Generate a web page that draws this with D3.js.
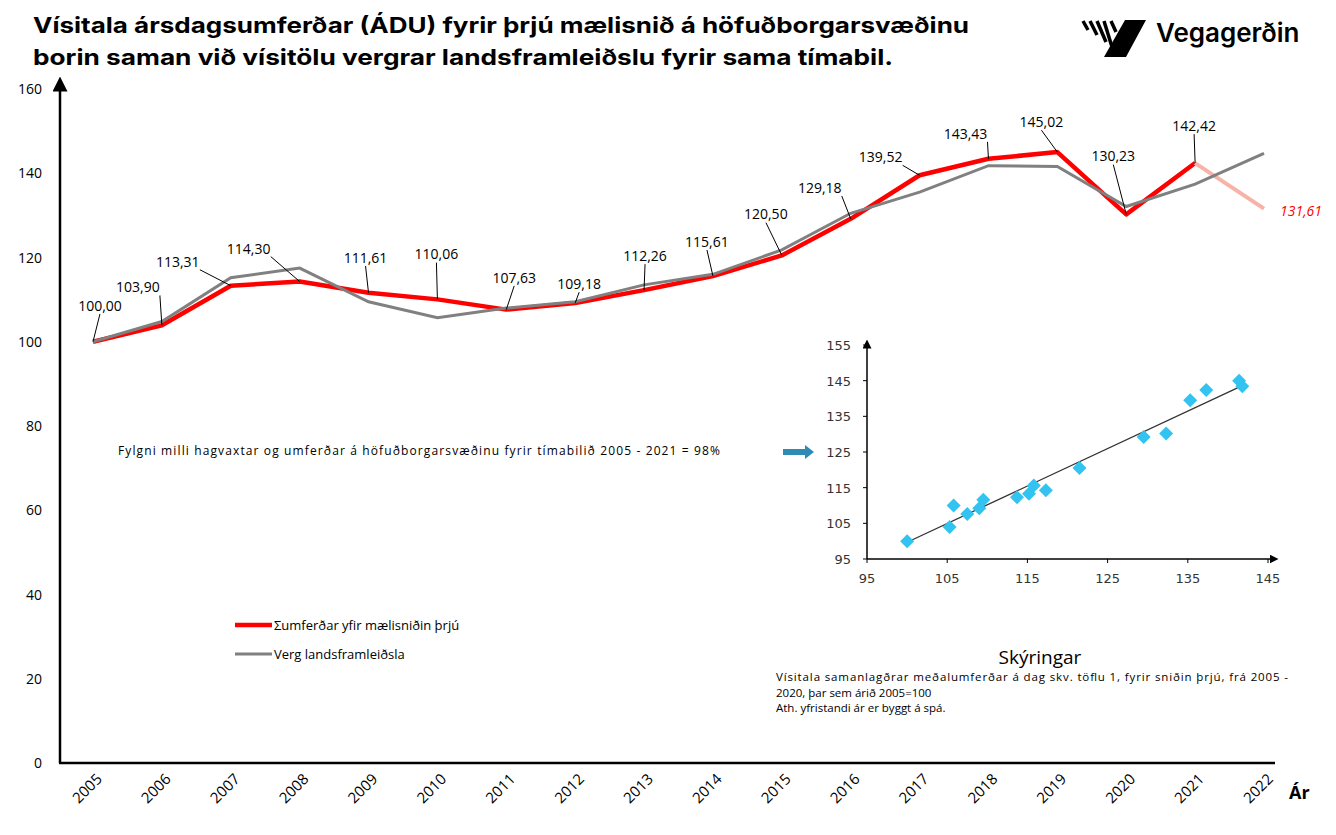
<!DOCTYPE html>
<html><head><meta charset="utf-8">
<script src="https://cdn.jsdelivr.net/npm/d3@7"></script>
<style>body{margin:0;background:#fff}</style></head>
<body><svg id="c" width="1336" height="835"></svg>
<script>
const years=[2005,2006,2007,2008,2009,2010,2011,2012,2013,2014,2015,2016,2017,2018,2019,2020,2021,2022];
const traffic=[100,103.90,113.31,114.30,111.61,110.06,107.63,109.18,112.26,115.61,120.50,129.18,139.52,143.43,145.02,130.23,142.42];
const forecast2022=131.61;
const gdp=[100,104.8,115.2,117.5,109.5,105.7,108,109.5,113.5,116,121.8,130.5,135.5,141.8,141.6,132.1,137.4,144.7];
const labelDx=[7,-24,-53,-51,-3,-1,8,4,1,-6,-16,-31,-39,-23,-16,-13,-1];
const labelDy=[-36,-38,-24,-33,-35,-45,-32,-19,-34,-34,-41,-31,-18,-25,-30,-58,-37];
const yTicks=[0,20,40,60,80,100,120,140,160];
const scX=[100,105.3,105.8,107.5,109,109.5,113.7,115.2,115.8,117.3,121.5,129.5,132.3,135.3,137.3,141.4,141.8];
const scY=[100,104,110,107.6,109.2,111.6,112.3,113.3,115.6,114.3,120.5,129.2,130.2,139.5,142.4,145,143.4];
const trend=[[100,99.7],[142,143.8]];
const scTicks=[95,105,115,125,135,145];
const fmt=v=>v.toFixed(2).replace('.',',');
const svg=d3.select('#c');
const F='"Open Sans",sans-serif';
const x=d3.scaleLinear().domain([2005,2022]).range([93,1264]);
const y=d3.scaleLinear().domain([0,160]).range([763,89]);
// title
svg.append('text').attr('x',33).attr('y',33).attr('font-family','Inter').attr('font-weight',700).attr('font-size',22).attr('textLength',936).attr('lengthAdjust','spacingAndGlyphs').text('Vísitala ársdagsumferðar (ÁDU) fyrir þrjú mælisnið á höfuðborgarsvæðinu');
svg.append('text').attr('x',33).attr('y',65).attr('font-family','Inter').attr('font-weight',700).attr('font-size',22).attr('textLength',860).attr('lengthAdjust','spacingAndGlyphs').text('borin saman við vísitölu vergrar landsframleiðslu fyrir sama tímabil.');
// logo
const lg=svg.append('g');
lg.append('path').attr('d','M1121,57 L1128,45 L1120,45 L1134,20 L1146,20 L1126,57 Z').attr('fill','#000');
lg.append('path').attr('d','M1104,57 L1125,20 L1144,20 L1123,57 Z').attr('fill','#000');
[[1083,21,1088,30],[1090,21,1097,35],[1097,21,1106,42],[1104,21,1112,47],[1111,21,1116,32]].forEach(s=>lg.append('line').attr('x1',s[0]).attr('y1',s[1]).attr('x2',s[2]).attr('y2',s[3]).attr('stroke','#000').attr('stroke-width',3.5));
lg.append('text').attr('x',1156).attr('y',42).attr('font-family','Inter').attr('font-weight',600).attr('font-size',26).text('Vegagerðin');
// axes
svg.append('defs').append('marker').attr('id','ar').attr('viewBox','0 0 10 10').attr('refX',5).attr('refY',5).attr('markerWidth',6).attr('markerHeight',6).attr('orient','auto').append('path').attr('d','M0,0L10,5L0,10Z');
svg.append('line').attr('x1',60).attr('y1',763).attr('x2',60).attr('y2',84).attr('stroke','#000').attr('stroke-width',2.5).attr('marker-end','url(#ar)');
svg.append('line').attr('x1',59).attr('y1',763).attr('x2',1275).attr('y2',763).attr('stroke','#000').attr('stroke-width',2.5);
yTicks.forEach(t=>svg.append('text').attr('x',42).attr('y',y(t)+5).attr('text-anchor','end').attr('font-family',F).attr('font-size',14).text(t));
years.forEach(yr=>svg.append('text').attr('transform',`translate(${x(yr)+10},${780}) rotate(-45)`).attr('text-anchor','end').attr('font-family',F).attr('font-size',15).text(yr));
svg.append('text').attr('x',1289).attr('y',799).attr('font-family',F).attr('font-weight',700).attr('font-size',18).text('Ár');
// lines
const line=d3.line().x((d,i)=>x(years[i])).y(d=>y(d));
svg.append('path').datum(traffic).attr('d',line).attr('fill','none').attr('stroke','#ff0000').attr('stroke-width',4.5).attr('stroke-linejoin','round');
svg.append('line').attr('x1',x(2021)).attr('y1',y(traffic[16])).attr('x2',x(2022)).attr('y2',y(forecast2022)).attr('stroke','#f7b3a8').attr('stroke-width',4);
svg.append('path').datum(gdp).attr('d',line).attr('fill','none').attr('stroke','#808080').attr('stroke-width',3);
// labels
traffic.forEach((v,i)=>{const px=x(years[i]),py=y(v),lx=px+labelDx[i],ly=py+labelDy[i]+4;
 svg.append('line').attr('x1',lx+(labelDx[i]<-20?22:0)).attr('y1',ly+4).attr('x2',px).attr('y2',py).attr('stroke','#000').attr('stroke-width',1);
 svg.append('rect').attr('x',lx-22).attr('y',ly-12).attr('width',44).attr('height',16).attr('fill','#fff');
 svg.append('text').attr('x',lx).attr('y',ly+1).attr('text-anchor','middle').attr('font-family',F).attr('font-size',14).text(fmt(v));});
svg.append('text').attr('x',1280).attr('y',216).attr('font-family',F).attr('font-style','italic').attr('font-size',14).attr('fill','#ff0000').text(fmt(forecast2022));
// legend
svg.append('line').attr('x1',235).attr('x2',272).attr('y1',625).attr('y2',625).attr('stroke','#ff0000').attr('stroke-width',4.5);
svg.append('text').attr('x',274).attr('y',630).attr('font-family',F).attr('font-size',13).text('Σumferðar yfir mælisniðin þrjú');
svg.append('line').attr('x1',235).attr('x2',272).attr('y1',654).attr('y2',654).attr('stroke','#808080').attr('stroke-width',3);
svg.append('text').attr('x',274).attr('y',659).attr('font-family',F).attr('font-size',13).text('Verg landsframleiðsla');
svg.append('text').attr('x',118).attr('y',455).attr('font-family',F).attr('font-size',12).attr('textLength',602).text('Fylgni milli hagvaxtar og umferðar á höfuðborgarsvæðinu fyrir tímabilið 2005 - 2021 = 98%');
// arrow
svg.append('path').attr('d','M783,449 L805,449 L805,445 L814,452 L805,459 L805,455 L783,455Z').attr('fill','#2e8bb3');
// inset
const sx=d3.scaleLinear().domain([95,145]).range([867,1268]);
const sy=d3.scaleLinear().domain([95,155]).range([559,345]);
svg.append('line').attr('x1',sx(95)).attr('y1',sy(95)).attr('x2',sx(95)).attr('y2',344).attr('stroke','#000').attr('stroke-width',1.5).attr('marker-end','url(#ar)');
svg.append('line').attr('x1',sx(95)).attr('y1',sy(95)).attr('x2',1274).attr('y2',sy(95)).attr('stroke','#000').attr('stroke-width',1.5).attr('marker-end','url(#ar)');
scTicks.forEach(t=>{svg.append('text').attr('x',sx(t)).attr('y',583).attr('text-anchor','middle').attr('font-family','DejaVu Sans').attr('font-size',13).attr('fill','#333').text(t);});
[95,105,115,125,135,145,155].forEach(t=>{svg.append('text').attr('x',851).attr('y',sy(t)+5).attr('text-anchor','end').attr('font-family','DejaVu Sans').attr('font-size',13).attr('fill','#333').text(t);
 svg.append('line').attr('x1',sx(95)-4).attr('x2',sx(95)).attr('y1',sy(t)).attr('y2',sy(t)).attr('stroke','#000');});
scTicks.forEach(t=>svg.append('line').attr('x1',sx(t)).attr('x2',sx(t)).attr('y1',sy(95)).attr('y2',sy(95)+4).attr('stroke','#000'));
svg.append('line').attr('x1',sx(trend[0][0])).attr('y1',sy(trend[0][1])).attr('x2',sx(trend[1][0])).attr('y2',sy(trend[1][1])).attr('stroke','#333').attr('stroke-width',1.3);
scX.forEach((v,i)=>svg.append('path').attr('transform',`translate(${sx(v)},${sy(scY[i])})`).attr('d','M0,-7L7,0L0,7L-7,0Z').attr('fill','#33c3f0'));
svg.append('text').attr('x',1040).attr('y',664).attr('text-anchor','middle').attr('font-family',F).attr('font-size',19).text('Skýringar');
['Vísitala samanlagðrar meðalumferðar á dag  skv. töflu 1, fyrir sniðin  þrjú, frá 2005 -','2020, þar sem árið 2005=100','Ath. yfristandi ár er byggt á spá.'].forEach((t,i)=>svg.append('text').attr('x',776).attr('y',681+i*15.5).attr('font-family',F).attr('font-size',11.5).attr('textLength',i==0?512:null).text(t));
</script></body></html>
